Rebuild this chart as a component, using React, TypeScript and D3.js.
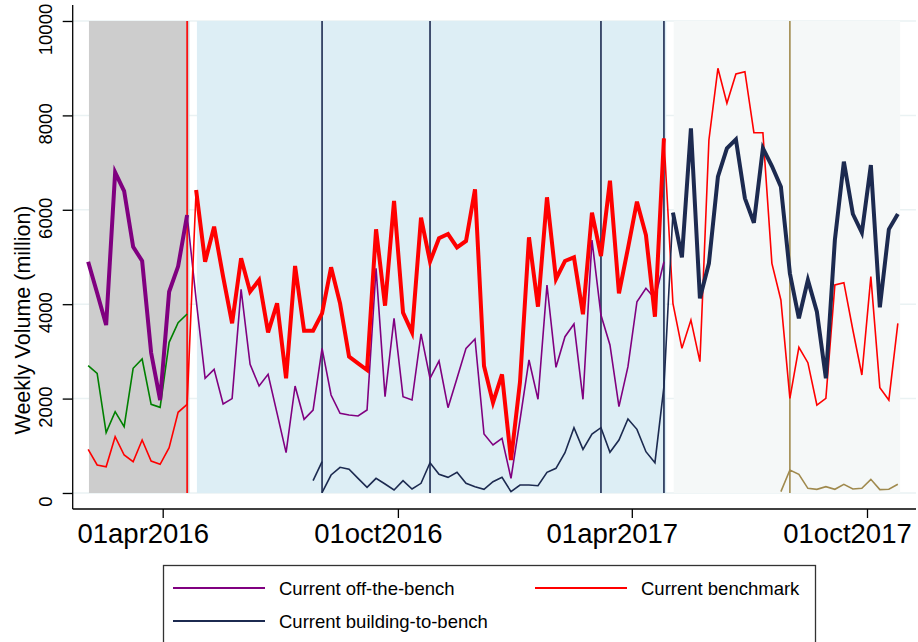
import React, { useRef, useEffect } from 'react'
import * as d3 from 'd3'

// weekly observations, one every 7 days from the first week
const firstWeek = new Date(2016, 1, 3)
const weekCount = 91

// Current off-the-bench (purple), weeks 0..64
const offBench = [
  4900, 4237, 3559, 6794, 6398, 5218, 4915, 2970, 1970, 4264, 4802, 5890,
  4100, 2430, 2620, 1885, 2000, 4315, 2725, 2267, 2514, 1688, 855, 2267,
  1561, 1758, 3065, 2076, 1688, 1652, 1631, 1758, 4760, 2040, 3700, 2040,
  1970, 3370, 2430, 2797, 1808, 2430, 3065, 3263, 1250, 1017, 1158, 311,
  1546, 2818, 1985, 4407, 2663, 3312, 3580, 1985, 5360, 3771, 3136, 1829,
  2676, 4053, 4336, 4120, 4900,
]

// Current benchmark (red), weeks 0..90
const benchmark = [
  926, 593, 557, 1193, 805, 663, 1123, 678, 608, 960, 1710, 1879,
  6420, 4900, 5642, 4583, 3595, 4972, 4265, 4513, 3404, 4018, 2430, 4809,
  3440, 3440, 3807, 4781, 4018, 2888, 2747, 2606, 5586, 3969, 6186, 3820,
  3404, 5833, 4900, 5396, 5487, 5205, 5339, 6434, 2690, 1913, 2514, 699,
  2350, 5416, 3948, 6264, 4534, 4915, 4993, 3786, 5939, 5021, 6617, 4230,
  5184, 6172, 5466, 3736, 7515, 4018, 3065, 3665, 2782, 7479, 8998, 8256,
  8877, 8926, 7634, 7634, 4866, 4089, 2006, 3086, 2761, 1864, 2006, 4407,
  4456, 3453, 2500, 4583, 2231, 1970, 3595,
]

// Current building-to-bench (navy), weeks 26..90
const building = [
  6, 381, 544, 502, 311, 121, 311, 191, 64, 261, 85, 205, 642, 395, 332,
  438, 205, 134, 78, 240, 332, 28, 169, 169, 155, 438, 523, 854, 1384, 925,
  1250, 1384, 862, 1123, 1568, 1349, 875, 642, 2253, 5939, 4993, 7726, 4124,
  4866, 6701, 7303, 7493, 6243, 5727, 7303, 6928, 6490, 4654, 3701, 4513,
  3842, 2430, 5360, 7019, 5911, 5515, 6949, 3934, 5586, 5911,
]
// earlier building-to-bench stub, weeks 25..26
const buildingEarly = [261, 664]
// earlier building series (green), weeks 0..11
const earlyBuilding = [2698, 2536, 1278, 1723, 1405, 2642, 2839, 1879, 1815, 3192, 3608, 3792]
// next cohort (sand), weeks 77..90
const nextCohort = [28, 487, 396, 99, 78, 134, 78, 184, 85, 99, 290, 71, 78, 184]

const yTicks = [0, 2000, 4000, 6000, 8000, 10000]
const xTicks = [new Date(2016, 3, 1), new Date(2016, 9, 1), new Date(2017, 3, 1), new Date(2017, 9, 1)]
const monthNames = ['jan', 'feb', 'mar', 'apr', 'may', 'jun', 'jul', 'aug', 'sep', 'oct', 'nov', 'dec']

const width = 918
const height = 642
const font = 'Liberation Sans, Arial, Helvetica, sans-serif'

const PURPLE = '#800080'
const RED = '#ff0000'
const NAVY = '#1c2a50'
const GREEN = '#008000'
const SAND = '#a08a4e'

const App = () => {
  const visEl = useRef<SVGSVGElement | null>(null)

  useEffect(() => {
    const svg = d3.select(visEl.current)
    svg.selectAll('*').remove()

    const weeks = d3.range(weekCount).map(i => d3.timeDay.offset(firstWeek, 7 * i))

    const x = d3.scaleTime()
      .domain([xTicks[0], xTicks[3]])
      .range([162.7, 867])
    const y = d3.scaleLinear()
      .domain([0, 10000])
      .range([493, 21])

    const axisX = 72.7
    const axisY = 509

    // gridlines
    svg.append('g')
      .selectAll('line')
      .data(yTicks)
      .join('line')
      .attr('x1', 63).attr('x2', 916)
      .attr('y1', d => y(d)).attr('y2', d => y(d))
      .attr('stroke', '#eaf2f3')
      .attr('stroke-width', 1.5)

    // shaded periods
    const periods = [
      { from: 0, to: 11, fill: '#cdcdcd' },
      { from: 12, to: 64, fill: '#ddeef5' },
      { from: 65, to: 90, fill: '#f5f8f8' },
    ]
    svg.append('g')
      .selectAll('rect')
      .data(periods)
      .join('rect')
      .attr('x', d => x(weeks[d.from]) + 0.8)
      .attr('y', y(10000))
      .attr('width', d => x(weeks[d.to]) - x(weeks[d.from]) + 1.5)
      .attr('height', y(0) - y(10000))
      .attr('fill', d => d.fill)

    // event lines
    const events = [
      { week: 11, color: RED },
      { week: 26, color: NAVY },
      { week: 38, color: NAVY },
      { week: 57, color: NAVY },
      { week: 64, color: NAVY },
      { week: 78, color: SAND },
    ]
    svg.append('g')
      .selectAll('line')
      .data(events)
      .join('line')
      .attr('x1', d => x(weeks[d.week])).attr('x2', d => x(weeks[d.week]))
      .attr('y1', y(10000)).attr('y2', y(0))
      .attr('stroke', d => d.color)
      .attr('stroke-width', 1.6)

    const lineGen = d3.line<[Date, number]>()
      .x(d => x(d[0]))
      .y(d => y(d[1]))

    const seg = (values: number[], start: number, from: number, to: number) =>
      values
        .map((v, i) => [weeks[start + i], v] as [Date, number])
        .filter((_, i) => start + i >= from && start + i <= to)

    const drawLine = (pts: [Date, number][], color: string, w: number) => {
      svg.append('path')
        .attr('d', lineGen(pts))
        .attr('fill', 'none')
        .attr('stroke', color)
        .attr('stroke-width', w)
        .attr('stroke-linejoin', 'miter')
    }

    // thin (not current) parts
    drawLine(seg(earlyBuilding, 0, 0, 11), GREEN, 1.6)
    drawLine(seg(offBench, 0, 11, 64), PURPLE, 1.6)
    drawLine(seg(benchmark, 0, 0, 12), RED, 1.6)
    drawLine(seg(benchmark, 0, 64, 90), RED, 1.6)
    drawLine(seg(buildingEarly, 25, 25, 26), NAVY, 1.6)
    drawLine(seg(building, 26, 26, 65), NAVY, 1.6)
    drawLine(seg(nextCohort, 77, 77, 90), SAND, 1.6)

    // current (thick) parts
    drawLine(seg(offBench, 0, 0, 11), PURPLE, 4)
    drawLine(seg(benchmark, 0, 12, 64), RED, 4)
    drawLine(seg(building, 26, 65, 90), NAVY, 4)

    // y axis
    const yAxisG = svg.append('g')
      .attr('transform', `translate(${axisX},0)`)
      .call(d3.axisLeft(y).tickValues(yTicks).tickSize(10).tickFormat(d3.format('d')))
    yAxisG.select('.domain').remove()
    yAxisG.selectAll('.tick line').attr('stroke', '#000').attr('stroke-width', 1.3)
    yAxisG.selectAll('.tick text')
      .attr('x', null)
      .attr('dy', null)
      .attr('transform', 'translate(-21,8) rotate(-90)')
      .attr('text-anchor', 'middle')
      .attr('fill', '#000')
      .style('font-family', font)
      .style('font-size', '18.5px')

    // x axis
    const xAxisG = svg.append('g')
      .attr('transform', `translate(0,${axisY})`)
      .call(d3.axisBottom(x)
        .tickValues(xTicks)
        .tickSize(9)
        .tickFormat(d => {
          const dt = d as Date
          return `${d3.timeFormat('%d')(dt)}${monthNames[dt.getMonth()]}${dt.getFullYear()}`
        }))
    xAxisG.select('.domain').remove()
    xAxisG.selectAll('.tick line').attr('stroke', '#000').attr('stroke-width', 1.3)
    xAxisG.selectAll('.tick text')
      .attr('y', 34)
      .attr('dy', 0)
      .attr('dx', -20)
      .attr('fill', '#000')
      .style('font-family', font)
      .style('font-size', '27.5px')

    // axis lines
    svg.append('line')
      .attr('x1', axisX).attr('x2', axisX)
      .attr('y1', 5).attr('y2', axisY)
      .attr('stroke', '#000').attr('stroke-width', 1.3)
    svg.append('line')
      .attr('x1', axisX).attr('x2', 916)
      .attr('y1', axisY).attr('y2', axisY)
      .attr('stroke', '#000').attr('stroke-width', 1.3)

    // axis title
    svg.append('text')
      .attr('transform', 'translate(29.5,320) rotate(-90)')
      .attr('text-anchor', 'middle')
      .style('font-family', font)
      .style('font-size', '21.5px')
      .attr('fill', '#000')
      .text('Weekly Volume (million)')

    // legend
    const legend = svg.append('g')
    legend.append('rect')
      .attr('x', 163.5).attr('y', 565.5)
      .attr('width', 652).attr('height', 90)
      .attr('fill', '#fff')
      .attr('stroke', '#333')
      .attr('stroke-width', 1.3)
    const items = [
      { label: 'Current off-the-bench', color: PURPLE, lx: 173, ly: 588 },
      { label: 'Current benchmark', color: RED, lx: 535, ly: 588 },
      { label: 'Current building-to-bench', color: NAVY, lx: 173, ly: 621 },
    ]
    const li = legend.selectAll('g.item')
      .data(items)
      .join('g')
      .attr('class', 'item')
    li.append('line')
      .attr('x1', d => d.lx).attr('x2', d => d.lx + 92)
      .attr('y1', d => d.ly).attr('y2', d => d.ly)
      .attr('stroke', d => d.color)
      .attr('stroke-width', 2)
    li.append('text')
      .attr('x', d => d.lx + 106)
      .attr('y', d => d.ly + 6.5)
      .style('font-family', font)
      .style('font-size', '18.5px')
      .attr('fill', '#000')
      .text(d => d.label)
  }, [])

  return (
    <div>
      <svg
        ref={visEl}
        width={width}
        height={height}
        style={{ position: 'absolute', left: 0, top: 0, background: '#fff' }}
      />
    </div>
  )
}

export default App
